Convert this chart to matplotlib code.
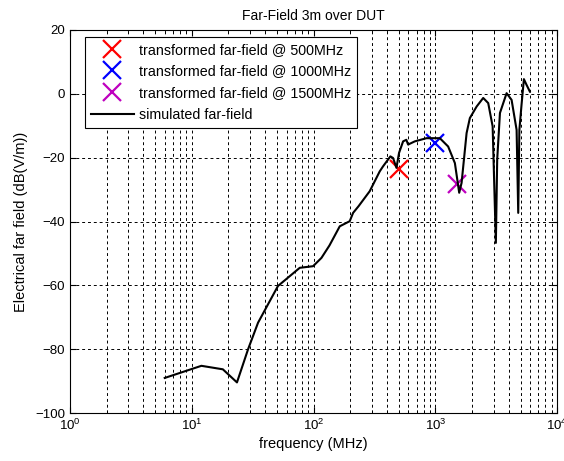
import matplotlib
matplotlib.use("Agg")
import matplotlib.pyplot as plt
import numpy as np

plt.rcParams['font.family'] = ['Liberation Sans', 'DejaVu Sans']
plt.rcParams['mathtext.fontset'] = 'custom'
plt.rcParams['mathtext.rm'] = 'Liberation Sans'
plt.rcParams['mathtext.it'] = 'Liberation Sans'

# simulated far-field curve
freq_sim = [6, 12, 18, 23.5, 29, 35, 51, 77, 99, 116, 135, 164, 198, 211, 234, 289,
            349, 372, 427, 449, 479, 503, 543, 577, 597, 677, 845, 1087, 1272, 1445,
            1568, 1640, 1803, 1918, 2178, 2468, 2713, 2950, 3135, 3215, 3387, 3840,
            4220, 4640, 4785, 4890, 5094, 5325, 5600, 5960]
field_sim = [-89, -85.2, -86.3, -90.4, -80, -71.7, -60.2, -54.5, -54, -51.4, -47.5, -41.5,
             -39.9, -37.3, -35.2, -30.5, -24.3, -22.7, -19.6, -20.1, -23.2, -18.5, -14.9,
             -14.4, -15.9, -14.9, -13.9, -13.9, -16.5, -21.7, -31, -27.9, -12.3, -7.6,
             -4, -1.3, -2.9, -10.2, -46.7, -20.6, -6, 0.2, -1.9, -11.3, -37.3, -11.3,
             -3.4, 4.6, 2.8, 0.7]

# transformed far-field points
freq_tr = [500, 1000, 1500]
field_tr = [-23.7, -15.4, -28.4]
tr_colors = ['red', 'blue', 'm']

fig = plt.figure(figsize=(5.64, 4.61), dpi=100)
ax = fig.add_axes([0.124, 0.104, 0.864, 0.831])

for f, v, c in zip(freq_tr, field_tr, tr_colors):
    ax.plot(f, v, 'x', color=c, markersize=12.5, mew=1.6,
            label=f"transformed far-field @ {f}MHz")
ax.plot(freq_sim, field_sim, 'k-', lw=1.5, label="simulated far-field")

ax.set_xscale('log')
ax.set_xlim(1, 1e4)
ax.set_ylim(-100, 20)
ax.set_yticks(np.arange(-100, 21, 20))
ax.grid(True, which='major', linestyle=(0, (3, 3)), color='k', lw=0.7)
ax.grid(True, which='minor', axis='x', linestyle=(0, (3, 3)), color='k', lw=0.7)
ax.tick_params(which='both', direction='in', top=True, right=True, labelsize=9.5)
ax.tick_params(which='major', length=4)
ax.tick_params(which='minor', length=2)

ax.set_title("Far-Field 3m over DUT", fontsize=10, pad=7)
ax.set_xlabel("frequency (MHz)", fontsize=10.5, labelpad=3)
ax.set_ylabel("Electrical far field (dB(V/m))", fontsize=10.5, labelpad=5)

leg = ax.legend(loc='upper left', bbox_to_anchor=(0.022, 0.993), fontsize=10.3,
                fancybox=False, framealpha=1, edgecolor='k', handlelength=3.0,
                handletextpad=0.4, borderaxespad=0.3, labelspacing=0.54,
                borderpad=0.4)
leg.get_frame().set_linewidth(0.8)

fig.savefig("out.png", dpi=100)
